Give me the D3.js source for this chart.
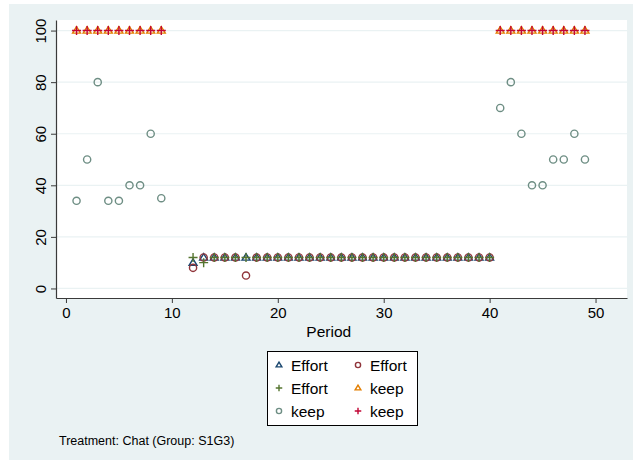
<!DOCTYPE html>
<html>
<head>
<meta charset="utf-8">
<script src="https://cdn.jsdelivr.net/npm/d3@7"></script>
<style>
  body { margin: 0; background: #fff; }
  svg { display: block; font-family: "Liberation Sans", Arial, sans-serif; }
</style>
</head>
<body>
<div id="chart"></div>
<script>
const width = 633;
const height = 461;

// data
const effortPeriods = [12, 13, 14, 15, 16, 17, 18, 19, 20, 21, 22, 23, 24, 25, 26, 27, 28, 29, 30, 31, 32, 33, 34, 35, 36, 37, 38, 39, 40];
const effortTriangle = [10, 12, 12, 12, 12, 12, 12, 12, 12, 12, 12, 12, 12, 12, 12, 12, 12, 12, 12, 12, 12, 12, 12, 12, 12, 12, 12, 12, 12];
const effortCircle = [8, 12, 12, 12, 12, 5, 12, 12, 12, 12, 12, 12, 12, 12, 12, 12, 12, 12, 12, 12, 12, 12, 12, 12, 12, 12, 12, 12, 12];
const effortPlus = [12, 10, 12, 12, 12, 12, 12, 12, 12, 12, 12, 12, 12, 12, 12, 12, 12, 12, 12, 12, 12, 12, 12, 12, 12, 12, 12, 12, 12];

const keepPeriods = [1, 2, 3, 4, 5, 6, 7, 8, 9, 41, 42, 43, 44, 45, 46, 47, 48, 49];
const keepTriangle = [100, 100, 100, 100, 100, 100, 100, 100, 100, 100, 100, 100, 100, 100, 100, 100, 100, 100];
const keepCircle = [34, 50, 80, 34, 34, 40, 40, 60, 35, 70, 80, 60, 40, 40, 50, 50, 60, 50];
const keepPlus = [100, 100, 100, 100, 100, 100, 100, 100, 100, 100, 100, 100, 100, 100, 100, 100, 100, 100];

const xTicks = [0, 10, 20, 30, 40, 50];
const yTicks = [0, 20, 40, 60, 80, 100];

const series = [
  { label: 'Effort', shape: 'triangle', color: '#1a476f', x: effortPeriods, y: effortTriangle },
  { label: 'Effort', shape: 'circle', color: '#90353b', x: effortPeriods, y: effortCircle },
  { label: 'Effort', shape: 'plus', color: '#55752f', x: effortPeriods, y: effortPlus },
  { label: 'keep', shape: 'triangle', color: '#e37e00', x: keepPeriods, y: keepTriangle },
  { label: 'keep', shape: 'circle', color: '#6e8e84', x: keepPeriods, y: keepCircle },
  { label: 'keep', shape: 'plus', color: '#c10534', x: keepPeriods, y: keepPlus }
];

const PLOT = { left: 56, right: 627, top: 20, bottom: 298 };

const svg = d3.select('#chart').append('svg')
  .attr('width', width)
  .attr('height', height);

// outer background
svg.append('rect')
  .attr('x', 9).attr('y', 4)
  .attr('width', width - 9).attr('height', 456)
  .attr('fill', '#eaf2f3');

svg.append('rect')
  .attr('x', PLOT.left).attr('y', PLOT.top)
  .attr('width', PLOT.right - PLOT.left).attr('height', PLOT.bottom - PLOT.top)
  .attr('fill', '#fff');

const x = d3.scaleLinear().domain([-0.94, 52.97]).range([PLOT.left, PLOT.right]);
const y = d3.scaleLinear().domain([-3.7, 104.1]).range([PLOT.bottom, PLOT.top]);

// grid lines
svg.append('g').selectAll('line')
  .data(yTicks)
  .join('line')
  .attr('x1', PLOT.left).attr('x2', PLOT.right)
  .attr('y1', (d) => y(d)).attr('y2', (d) => y(d))
  .attr('stroke', '#eaf2f3')
  .attr('stroke-width', 1.2);

// axes
const xAxis = svg.append('g')
  .attr('transform', 'translate(0,' + PLOT.bottom + ')')
  .call(d3.axisBottom(x).tickValues(xTicks).tickSize(5).tickSizeOuter(0).tickPadding(4));
const yAxis = svg.append('g')
  .attr('transform', 'translate(' + PLOT.left + ',0)')
  .call(d3.axisLeft(y).tickValues(yTicks).tickSize(5).tickSizeOuter(0));

[xAxis, yAxis].forEach((a) => {
  a.select('.domain').attr('stroke', '#3a3a3a').attr('stroke-width', 1.2);
  a.selectAll('.tick line').attr('stroke', '#3a3a3a').attr('stroke-width', 1);
  a.selectAll('.tick text').attr('fill', '#000').style('font-size', '15px');
});
xAxis.selectAll('.tick text').attr('dy', '0.71em');

yAxis.selectAll('.tick text')
  .attr('x', null).attr('dy', null)
  .attr('text-anchor', 'middle')
  .attr('transform', 'translate(-10,0) rotate(-90)');

svg.append('text')
  .attr('x', x(25) - 2)
  .attr('y', 337)
  .attr('text-anchor', 'middle')
  .style('font-size', '15.5px')
  .text('Period');

function markerPath(shape, s) {
  const p = d3.path();
  if (shape === 'circle') {
    p.moveTo(s, 0);
    p.arc(0, 0, s, 0, 2 * Math.PI);
  } else if (shape === 'triangle') {
    const h = s * 1.8;
    p.moveTo(0, -h * 0.6);
    p.lineTo(s * 1.1, h * 0.4);
    p.lineTo(-s * 1.1, h * 0.4);
    p.closePath();
  } else {
    const r = s * 1.25;
    p.moveTo(-r, 0); p.lineTo(r, 0);
    p.moveTo(0, -r); p.lineTo(0, r);
  }
  return p.toString();
}

// markers
series.forEach((s) => {
  svg.append('g').selectAll('path')
    .data(s.x)
    .join('path')
    .attr('transform', (d, i) => 'translate(' + x(d) + ',' + y(s.y[i]) + ')')
    .attr('d', markerPath(s.shape, 3.6))
    .attr('fill', 'none')
    .attr('stroke', s.color)
    .attr('stroke-width', 1.4);
});

// legend
const legend = svg.append('g');
legend.append('rect')
  .attr('x', 267.5).attr('y', 351.5)
  .attr('width', 150).attr('height', 74)
  .attr('fill', '#fff')
  .attr('stroke', '#000')
  .attr('stroke-width', 1);

series.forEach((s, i) => {
  const col = i % 2;
  const row = Math.floor(i / 2);
  const cx = 279 + col * 79;
  const cy = 365 + row * 23;
  legend.append('path')
    .attr('transform', 'translate(' + cx + ',' + cy + ')')
    .attr('d', markerPath(s.shape, 2.6))
    .attr('fill', 'none')
    .attr('stroke', s.color)
    .attr('stroke-width', 1.4);
  legend.append('text')
    .attr('x', cx + 12)
    .attr('y', cy + 5.5)
    .style('font-size', '15.5px')
    .text(s.label);
});

svg.append('text')
  .attr('x', 59)
  .attr('y', 444.5)
  .style('font-size', '12.5px')
  .text('Treatment: Chat (Group: S1G3)');
</script>
</body>
</html>
